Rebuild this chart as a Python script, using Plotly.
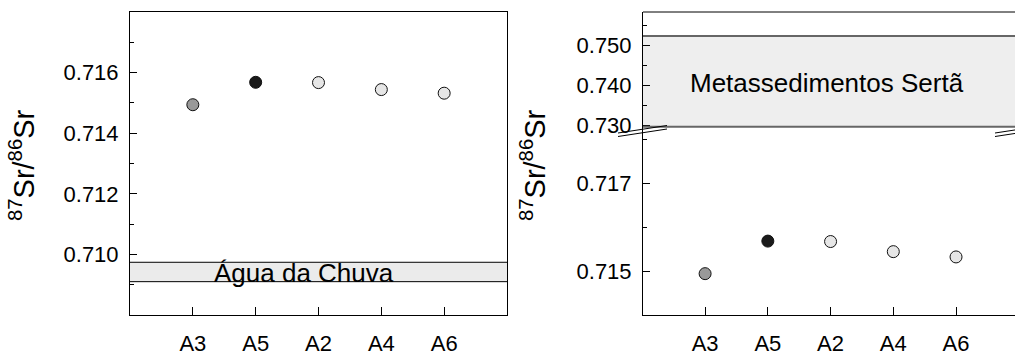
import plotly.graph_objects as go

categories = ["A3", "A5", "A2", "A4", "A6"]
ratios = [0.71494, 0.71568, 0.71567, 0.71544, 0.71532]
marker_colors = ["#999999", "#1a1a1a", "#e6e6e6", "#e6e6e6", "#e6e6e6"]
rain_band = [0.70910, 0.70974]
rain_label = "Água da Chuva"
meta_band = [0.72958, 0.75225]
meta_label = "Metassedimentos Sertã"
ytitle = "<sup>87</sup>Sr/<sup>86</sup>Sr"
left_ticks = [0.710, 0.712, 0.714, 0.716]

W, H = 1015, 352
MT, MB = 12, 37
PH = H - MT - MB
FONT = "Liberation Sans, Arial, sans-serif"

def px(x):
    return x / W

def py(y):
    return (H - MB - y) / PH

xpos = list(range(len(categories)))

fig = go.Figure()
for xa, ya in [("x", "y"), ("x2", "y2")]:
    fig.add_trace(go.Scatter(x=xpos, y=ratios, mode="markers", xaxis=xa, yaxis=ya,
                             marker=dict(size=12, color=marker_colors, line=dict(color="#111111", width=1)),
                             showlegend=False, cliponaxis=False))

axfont = dict(family=FONT, size=22, color="#000")

xcommon = dict(tickmode="array", tickvals=xpos, ticktext=categories, ticks="inside",
               ticklen=8, tickcolor="#000", showline=True, linewidth=1, linecolor="#000",
               showgrid=False, zeroline=False, tickfont=axfont, ticklabelstandoff=9,
               automargin=False)
ycommon = dict(tickformat=".3f", ticks="inside", ticklen=7, tickcolor="#000", showline=True,
               linewidth=1, linecolor="#000", showgrid=False, zeroline=False, tickfont=axfont,
               ticklabelstandoff=6, automargin=False)

fig.update_layout(
    width=W, height=H, margin=dict(l=0, r=0, t=MT, b=MB, autoexpand=False),
    plot_bgcolor="white", paper_bgcolor="white",
    xaxis=dict(domain=[px(130), px(507)], range=[-1, 5], anchor="y", mirror=True, **xcommon),
    yaxis=dict(domain=[0, 1], range=[0.708, 0.718], anchor="x", mirror=True,
               tickmode="array", tickvals=left_ticks,
               minor=dict(ticks="inside", ticklen=4, tick0=0.709, dtick=0.001, tickcolor="#000", showgrid=False),
               **ycommon),
    xaxis2=dict(domain=[px(643), 1.0], range=[-0.99, 4.94], anchor="y2", **xcommon),
    yaxis2=dict(domain=[0, py(132)], range=[0.714, 0.71816], anchor="x2",
                tickmode="linear", tick0=0.715, dtick=0.002,
                minor=dict(ticks="inside", ticklen=4, tick0=0.714, dtick=0.001, tickcolor="#000", showgrid=False),
                **ycommon),
    yaxis3=dict(domain=[py(132), 1], range=[0.72825, 0.75825], anchor="x2",
                tickmode="linear", tick0=0.730, dtick=0.010,
                minor=dict(ticks="inside", ticklen=4, tick0=0.735, dtick=0.005, tickcolor="#000", showgrid=False),
                **ycommon),
)

shapes = []
shapes.append(dict(type="rect", xref="x domain", yref="y", x0=0, x1=1, y0=rain_band[0], y1=rain_band[1],
                   fillcolor="#ebebeb", line=dict(width=0), layer="below"))
for v in rain_band:
    shapes.append(dict(type="line", xref="x domain", yref="y", x0=0, x1=1, y0=v, y1=v,
                       line=dict(color="#000", width=1)))
shapes.append(dict(type="rect", xref="x2 domain", yref="y3", x0=0, x1=1, y0=meta_band[0], y1=meta_band[1],
                   fillcolor="#eeeeee", line=dict(width=0), layer="below"))
for v in meta_band:
    shapes.append(dict(type="line", xref="x2 domain", yref="y3", x0=0, x1=1, y0=v, y1=v,
                       line=dict(color="#666666", width=2)))
# top border of right panel
shapes.append(dict(type="line", xref="paper", yref="paper", x0=px(643), x1=1, y0=1, y1=1,
                   line=dict(color="#000", width=1)))
# mask at the clipped right edge of the right panel (no right spine in the reference)
shapes.append(dict(type="rect", xref="paper", yref="paper", x0=px(985), x1=1.0,
                   y0=py(314.6), y1=py(138), fillcolor="white", line=dict(width=0), layer="above"))
# axis-break marks
for (xa, ya, xb, yb) in [(618, 136.5, 667, 129), (618, 133, 667, 125.5),
                         (995, 136.5, 1016, 133.3), (995, 133, 1016, 129.8)]:
    shapes.append(dict(type="line", xref="paper", yref="paper", x0=px(xa), x1=px(xb),
                       y0=py(ya), y1=py(yb), line=dict(color="#000", width=1)))
fig.update_layout(shapes=shapes)

annots = [
    dict(text=rain_label, x=1.77, y=sum(rain_band) / 2, xref="x", yref="y", showarrow=False,
         font=dict(family=FONT, size=26, color="#000"), yshift=-1),
    dict(text=meta_label, x=1.95, y=0.7405, xref="x2", yref="y3", showarrow=False,
         font=dict(family=FONT, size=26, color="#000")),
    dict(text=ytitle, x=px(22), y=py(165), xref="paper", yref="paper", showarrow=False,
         xanchor="center", yanchor="middle",
         textangle=-90, font=dict(family=FONT, size=29, color="#000")),
    dict(text=ytitle, x=px(533), y=py(165), xref="paper", yref="paper", showarrow=False,
         xanchor="center", yanchor="middle",
         textangle=-90, font=dict(family=FONT, size=29, color="#000")),
]
fig.update_layout(annotations=annots)

fig.write_html("out.html", config={"displayModeBar": False, "staticPlot": True}, post_script=(
    "document.body.style.margin='0';"
    "document.body.style.overflow='hidden';"
    "document.documentElement.style.overflow='hidden';"))
